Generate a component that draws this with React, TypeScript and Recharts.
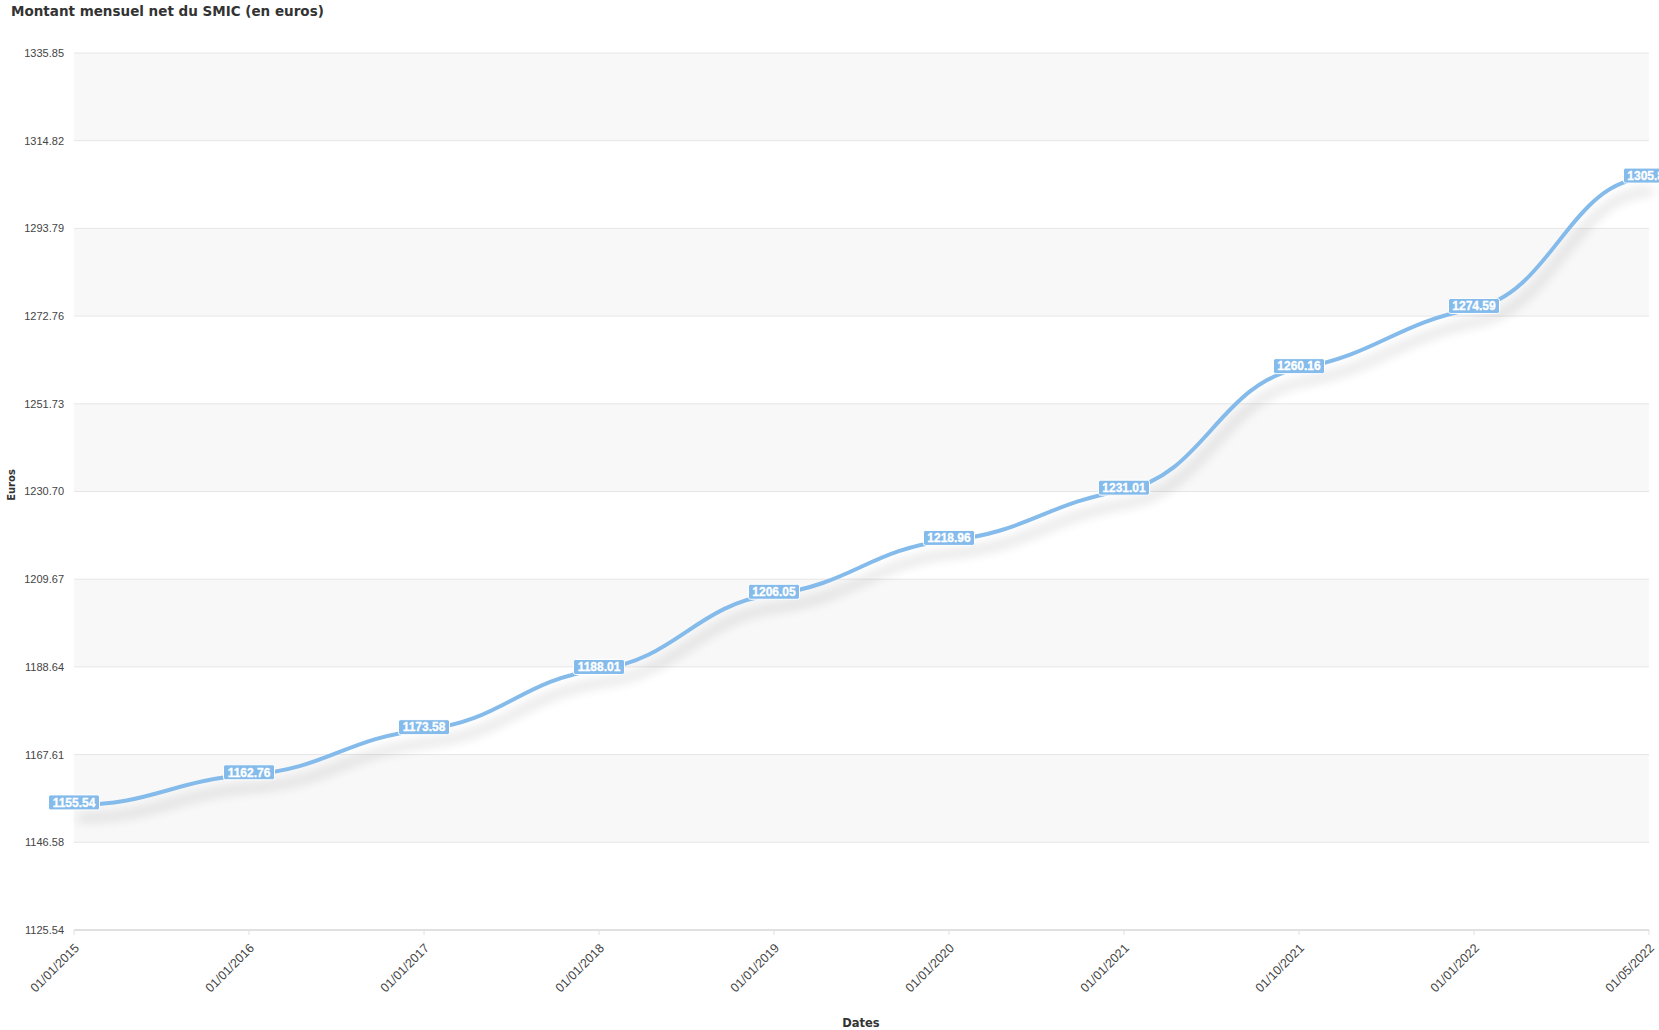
import React from "react";
import { LineChart, Line, XAxis, YAxis, CartesianGrid, LabelList } from "recharts";

const dates = [
  "01/01/2015",
  "01/01/2016",
  "01/01/2017",
  "01/01/2018",
  "01/01/2019",
  "01/01/2020",
  "01/01/2021",
  "01/10/2021",
  "01/01/2022",
  "01/05/2022",
];
const smicNet = [1155.54, 1162.76, 1173.58, 1188.01, 1206.05, 1218.96, 1231.01, 1260.16, 1274.59, 1305.85];
const yTicks = [1125.54, 1146.58, 1167.61, 1188.64, 1209.67, 1230.7, 1251.73, 1272.76, 1293.79, 1314.82, 1335.85];

const data = dates.map((d, i) => ({ date: d, value: smicNet[i] }));

const W = 1659;
const H = 1030;
const LINE_COLOR = "#84bbeb";
const TICK_FONT = "'Liberation Sans', Arial, sans-serif";
const TITLE_FONT = "'DejaVu Sans', Verdana, sans-serif";

// Smooth S-shaped curve: long horizontal handles with slightly tilted tangents
function sCurve(context: any) {
  let pts: [number, number][] = [];
  return {
    areaStart() {},
    areaEnd() {},
    lineStart() {
      pts = [];
    },
    point(x: number, y: number) {
      pts.push([+x, +y]);
    },
    lineEnd() {
      const n = pts.length;
      if (!n) return;
      const k = 0.35;
      const h = 0.45;
      const t: number[] = pts.map((p, i) => {
        if (i === 0 || i === n - 1) return 0;
        const [ax, ay] = pts[i - 1];
        const [bx, by] = pts[i + 1];
        return (k * (by - ay)) / (bx - ax);
      });
      context.moveTo(pts[0][0], pts[0][1]);
      for (let i = 0; i < n - 1; i++) {
        const [x0, y0] = pts[i];
        const [x1, y1] = pts[i + 1];
        const dx = x1 - x0;
        context.bezierCurveTo(
          x0 + dx * h,
          y0 + t[i] * dx * h,
          x1 - dx * h,
          y1 - t[i + 1] * dx * h,
          x1,
          y1
        );
      }
    },
  };
}

const XTick = (props: any) => {
  const { x, y, payload } = props;
  return (
    <g transform={`translate(${x + 3},${y + 9})`}>
      <text
        x={0}
        y={0}
        dy={4}
        textAnchor="end"
        transform="rotate(-45)"
        fontSize={12.5}
        fontFamily={TICK_FONT}
        fill="#444"
      >
        {payload.value}
      </text>
    </g>
  );
};

const YTick = (props: any) => {
  const { x, y, payload } = props;
  return (
    <text x={x} y={y} dy={4} textAnchor="end" fontSize={11} fontFamily={TICK_FONT} fill="#444">
      {Number(payload.value).toFixed(2)}
    </text>
  );
};

const PointLabel = (props: any) => {
  const { x, y, value } = props;
  if (x == null || y == null) return null;
  const w = 51;
  const h = 15;
  const cy = y - 2.5;
  return (
    <g>
      <rect
        x={x - w / 2}
        y={cy - h / 2}
        width={w}
        height={h}
        rx={2}
        ry={2}
        fill={LINE_COLOR}
        stroke="#ffffff"
        strokeWidth={1}
      />
      <text
        x={x}
        y={cy}
        dy={4.3}
        textAnchor="middle"
        fontSize={12}
        fontWeight="bold"
        fontFamily={TICK_FONT}
        fill="#ffffff"
        stroke="#ffffff"
        strokeWidth={0.3}
      >
        {Number(value).toFixed(2)}
      </text>
    </g>
  );
};

export default function App() {
  return (
    <div style={{ position: "absolute", left: 0, top: 0, width: W, height: H, background: "#fff" }}>
      <style>{`.recharts-line-curve { filter: url(#lineShadow); }`}</style>
      <LineChart width={W} height={H} data={data} margin={{ top: 53, right: 10, bottom: 0, left: 0 }}>
        <CartesianGrid
          vertical={false}
          stroke="#e6e6e6"
          horizontalFill={["#f8f8f8", "#ffffff"]}
          fillOpacity={1}
        />
        <XAxis
          dataKey="date"
          height={100}
          padding={{ left: 0, right: 0 }}
          interval={0}
          tick={<XTick />}
          tickSize={5}
          tickLine={{ stroke: "#e0e0e0" }}
          axisLine={{ stroke: "#e0e0e0", strokeWidth: 2 }}
        />
        <YAxis
          width={74}
          domain={[1125.54, 1335.85]}
          ticks={yTicks}
          allowDataOverflow
          axisLine={false}
          tickLine={false}
          tickSize={0}
          tickMargin={10}
          tick={<YTick />}
        />
        <Line
          type={sCurve as any}
          dataKey="value"
          stroke={LINE_COLOR}
          strokeWidth={4}
          dot={false}
          activeDot={false}
          isAnimationActive={false}
        >
          <LabelList dataKey="value" content={<PointLabel />} />
        </Line>
      </LineChart>
      <svg
        width={W}
        height={H}
        style={{ position: "absolute", left: 0, top: 0, pointerEvents: "none" }}
      >
        <defs>
          <filter id="lineShadow" x="-5%" y="-20%" width="115%" height="160%">
            <feGaussianBlur in="SourceAlpha" stdDeviation="6" result="blur" />
            <feOffset in="blur" dx="4" dy="13" result="off" />
            <feComponentTransfer in="off" result="shadow">
              <feFuncA type="linear" slope="0.22" />
            </feComponentTransfer>
            <feMerge>
              <feMergeNode in="shadow" />
              <feMergeNode in="SourceGraphic" />
            </feMerge>
          </filter>
        </defs>
        <text x={11} y={16} fontSize={13.5} fontWeight="bold" fontFamily={TITLE_FONT} fill="#333">
          Montant mensuel net du SMIC (en euros)
        </text>
        <text
          x={15}
          y={485}
          fontSize={10}
          fontWeight="bold"
          fontFamily={TITLE_FONT}
          fill="#333"
          textAnchor="middle"
          transform="rotate(-90 15 485)"
        >
          Euros
        </text>
        <text
          x={861}
          y={1027}
          fontSize={11.5}
          fontWeight="bold"
          fontFamily={TITLE_FONT}
          fill="#333"
          textAnchor="middle"
        >
          Dates
        </text>
      </svg>
    </div>
  );
}
